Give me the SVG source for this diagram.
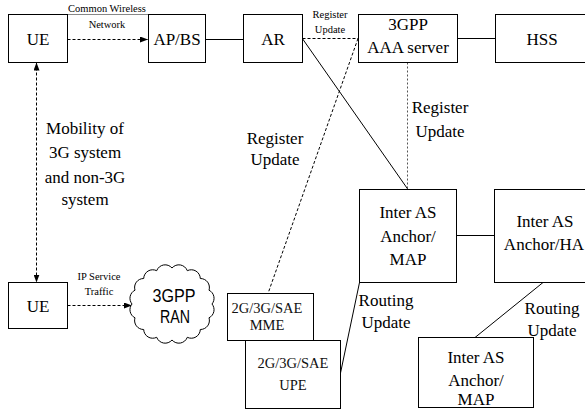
<svg xmlns="http://www.w3.org/2000/svg" width="585" height="409" viewBox="0 0 585 409">
<style>
.box{fill:#fff;stroke:#000;stroke-width:1}
.ln{fill:none;stroke:#000;stroke-width:1}
.dash{fill:none;stroke:#000;stroke-width:1;stroke-dasharray:3 2}
.gdash{fill:none;stroke:#555;stroke-width:1;stroke-dasharray:2 2}
</style>
<defs>
<marker id="ah" markerWidth="8" markerHeight="6" refX="8" refY="3" orient="auto-start-reverse" markerUnits="userSpaceOnUse">
<path d="M0,0 L8,3 L0,6 Z" fill="#000"/>
</marker>
</defs>
<rect width="585" height="409" fill="#fff"/>
<g id="connectors">
<line x1="67.5" y1="14.5" x2="148.5" y2="14.5" stroke="#888" stroke-width="1"/>
<line class="dash" x1="67.5" y1="39.5" x2="148" y2="39.5" marker-end="url(#ah)"/>
<line class="ln" x1="205.5" y1="39.5" x2="243.5" y2="39.5"/>
<line class="dash" x1="302.5" y1="38.5" x2="358.5" y2="38.5"/>
<line class="ln" x1="457.5" y1="38.5" x2="495.5" y2="38.5"/>
<line class="ln" x1="302" y1="38" x2="408" y2="189.5"/>
<line class="dash" x1="358" y1="38.5" x2="268" y2="293.5"/>
<line class="gdash" x1="407.5" y1="62.5" x2="407.5" y2="189.5"/>
<line class="dash" x1="36.5" y1="62.5" x2="36.5" y2="282.5" marker-start="url(#ah)" marker-end="url(#ah)"/>
<line class="dash" x1="67.5" y1="305.5" x2="132" y2="305.5" marker-end="url(#ah)"/>
<line class="ln" x1="456.5" y1="235.5" x2="494.5" y2="235.5"/>
<line class="ln" x1="359.5" y1="282.5" x2="340.5" y2="373"/>
<line class="ln" x1="543" y1="282.5" x2="475" y2="337.5"/>
</g>
<g id="small-labels">
<text x="107" y="12" font-family="Liberation Serif" font-size="10.5" text-anchor="middle">Common Wireless</text>
<text x="107" y="28" font-family="Liberation Serif" font-size="10.5" text-anchor="middle">Network</text>
<text x="330" y="18" font-family="Liberation Serif" font-size="10.5" text-anchor="middle">Register</text>
<text x="330" y="33" font-family="Liberation Serif" font-size="10.5" text-anchor="middle">Update</text>
<text x="99" y="280" font-family="Liberation Serif" font-size="10.5" text-anchor="middle">IP Service</text>
<text x="99" y="295" font-family="Liberation Serif" font-size="10.5" text-anchor="middle">Traffic</text>
</g>
<g id="labels">
<text x="85" y="134" font-family="Liberation Serif" font-size="17" text-anchor="middle">Mobility of</text>
<text x="85" y="158" font-family="Liberation Serif" font-size="17" text-anchor="middle">3G system</text>
<text x="85" y="183" font-family="Liberation Serif" font-size="17" text-anchor="middle">and non-3G</text>
<text x="85" y="205" font-family="Liberation Serif" font-size="17" text-anchor="middle">system</text>
<text x="275" y="144" font-family="Liberation Serif" font-size="17" text-anchor="middle">Register</text>
<text x="275" y="165" font-family="Liberation Serif" font-size="17" text-anchor="middle">Update</text>
<text x="440" y="113" font-family="Liberation Serif" font-size="17" text-anchor="middle">Register</text>
<text x="440" y="137" font-family="Liberation Serif" font-size="17" text-anchor="middle">Update</text>
<text x="386" y="306" font-family="Liberation Serif" font-size="17" text-anchor="middle">Routing</text>
<text x="386" y="328" font-family="Liberation Serif" font-size="17" text-anchor="middle">Update</text>
<text x="552" y="314" font-family="Liberation Serif" font-size="17" text-anchor="middle">Routing</text>
<text x="552" y="336" font-family="Liberation Serif" font-size="17" text-anchor="middle">Update</text>
</g>
<g id="ue1"><rect class="box" x="8.5" y="14.5" width="59" height="48"/><text x="38" y="45" font-family="Liberation Serif" font-size="17" text-anchor="middle">UE</text></g>
<g id="apbs"><rect class="box" x="148.5" y="14.5" width="57" height="48"/><text x="177" y="45" font-family="Liberation Serif" font-size="17" text-anchor="middle">AP/BS</text></g>
<g id="ar"><rect class="box" x="243.5" y="14.5" width="59" height="48"/><text x="273" y="45" font-family="Liberation Serif" font-size="17" text-anchor="middle">AR</text></g>
<g id="aaa"><rect class="box" x="358.5" y="14.5" width="99" height="48"/><text x="408" y="30" font-family="Liberation Serif" font-size="17" text-anchor="middle">3GPP</text><text x="408" y="53" font-family="Liberation Serif" font-size="17" text-anchor="middle">AAA server</text></g>
<g id="hss"><rect class="box" x="495.5" y="14.5" width="100" height="48"/><text x="542" y="45" font-family="Liberation Serif" font-size="17" text-anchor="middle">HSS</text></g>
<g id="ue2"><rect class="box" x="8.5" y="282.5" width="59" height="46"/><text x="38" y="312" font-family="Liberation Serif" font-size="17" text-anchor="middle">UE</text></g>
<g id="ran">
<path class="box" d="M212,304 A9,9 0 0 1 209,317.8 A9,9 0 0 1 200.3,329.5 A9,9 0 0 1 187.3,337.3 A9,9 0 0 1 172,340 A9,9 0 0 1 156.7,337.3 A9,9 0 0 1 143.7,329.5 A9,9 0 0 1 135,317.8 A9,9 0 0 1 132,304 A9,9 0 0 1 135,290.2 A9,9 0 0 1 143.7,278.5 A9,9 0 0 1 156.7,270.7 A9,9 0 0 1 172,268 A9,9 0 0 1 187.3,270.7 A9,9 0 0 1 200.3,278.5 A9,9 0 0 1 209,290.2 A9,9 0 0 1 212,304 Z"/>
<text x="174" y="302" font-family="Liberation Sans" font-size="18" text-anchor="middle" textLength="43" lengthAdjust="spacingAndGlyphs">3GPP</text>
<text x="175" y="323" font-family="Liberation Sans" font-size="18" text-anchor="middle" textLength="30" lengthAdjust="spacingAndGlyphs">RAN</text>
</g>
<g id="upe"><rect class="box" x="245.5" y="340.5" width="95" height="68"/><text x="293" y="368" font-family="Liberation Serif" font-size="14.5" text-anchor="middle" fill="#111">2G/3G/SAE</text><text x="293" y="390" font-family="Liberation Serif" font-size="14.5" text-anchor="middle" fill="#111">UPE</text></g>
<g id="mme"><rect class="box" x="227.5" y="293.5" width="86" height="47"/><text x="267" y="313" font-family="Liberation Serif" font-size="14.5" text-anchor="middle" fill="#111">2G/3G/SAE</text><text x="267" y="330" font-family="Liberation Serif" font-size="14.5" text-anchor="middle" fill="#111">MME</text></g>
<g id="map1"><rect class="box" x="359.5" y="189.5" width="97" height="93"/><text x="408" y="218" font-family="Liberation Serif" font-size="17" text-anchor="middle">Inter AS</text><text x="408" y="242" font-family="Liberation Serif" font-size="17" text-anchor="middle">Anchor/</text><text x="408" y="265" font-family="Liberation Serif" font-size="17" text-anchor="middle">MAP</text></g>
<g id="ha"><rect class="box" x="494.5" y="189.5" width="100" height="93"/><text x="545" y="227" font-family="Liberation Serif" font-size="17" text-anchor="middle">Inter AS</text><text x="544" y="250" font-family="Liberation Serif" font-size="17" text-anchor="middle">Anchor/HA</text></g>
<g id="map2"><rect class="box" x="418.5" y="337.5" width="115" height="70"/><text x="476" y="363" font-family="Liberation Serif" font-size="17" text-anchor="middle">Inter AS</text><text x="476" y="386" font-family="Liberation Serif" font-size="17" text-anchor="middle">Anchor/</text><text x="476" y="405" font-family="Liberation Serif" font-size="17" text-anchor="middle">MAP</text></g>
</svg>
